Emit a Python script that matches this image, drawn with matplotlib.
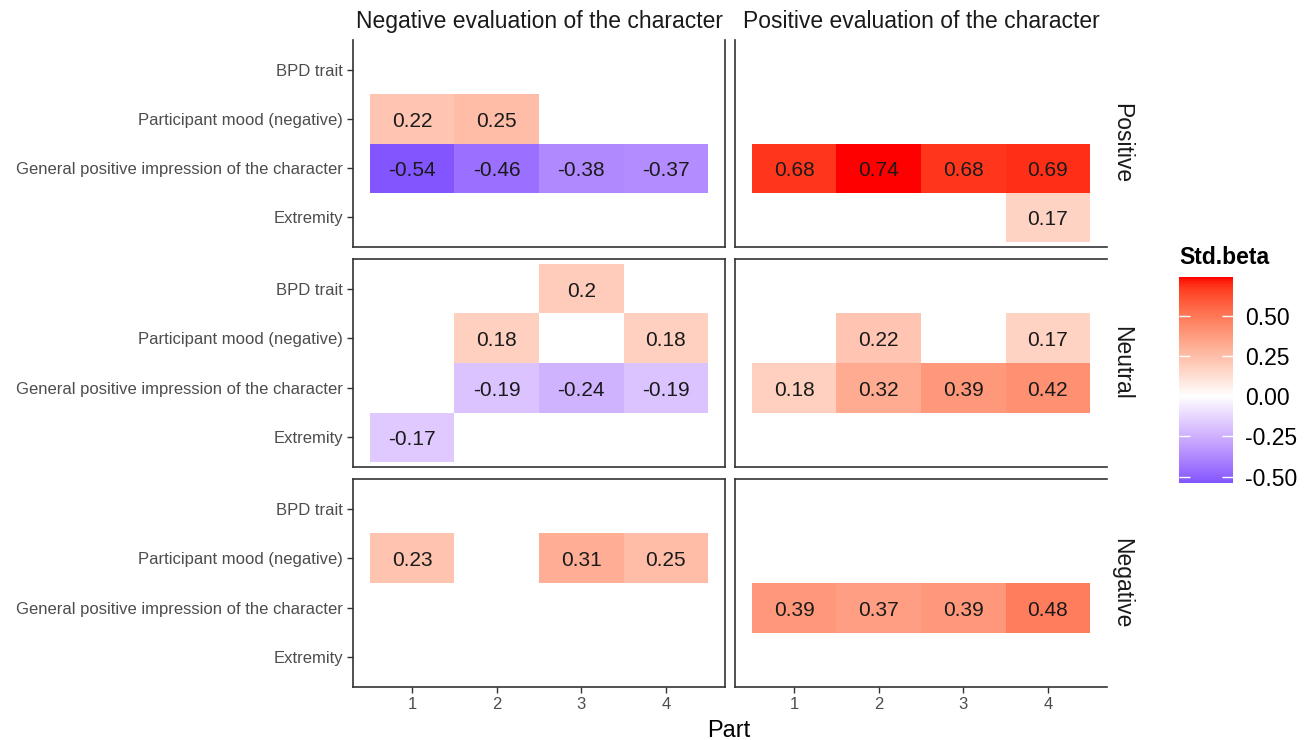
import numpy as np
import matplotlib
matplotlib.use("Agg")
import matplotlib.pyplot as plt
from matplotlib.colors import ListedColormap, Normalize
from matplotlib.transforms import offset_copy

plt.rcParams['font.family'] = ['Liberation Sans', 'DejaVu Sans']

# facets and categories
row_facets = ['Positive', 'Neutral', 'Negative']
col_facets = ['Negative evaluation of the character', 'Positive evaluation of the character']
predictors = ['Extremity', 'General positive impression of the character',
              'Participant mood (negative)', 'BPD trait']  # bottom -> top
parts = [1, 2, 3, 4]

# significant coefficients (one entry per tile)
cell_row = ['Positive'] * 6 + ['Positive'] * 5 + ['Neutral'] * 7 + ['Neutral'] * 6 + ['Negative'] * 3 + ['Negative'] * 4
cell_col = ([0] * 6 + [1] * 5 + [0] * 7 + [1] * 6 + [0] * 3 + [1] * 4)
cell_pred = ['Participant mood (negative)'] * 2 + ['General positive impression of the character'] * 4 \
    + ['General positive impression of the character'] * 4 + ['Extremity'] \
    + ['BPD trait'] + ['Participant mood (negative)'] * 2 + ['General positive impression of the character'] * 3 + ['Extremity'] \
    + ['Participant mood (negative)'] * 2 + ['General positive impression of the character'] * 4 \
    + ['Participant mood (negative)'] * 3 \
    + ['General positive impression of the character'] * 4
cell_part = [1, 2, 1, 2, 3, 4,
             1, 2, 3, 4, 4,
             3, 2, 4, 2, 3, 4, 1,
             2, 4, 1, 2, 3, 4,
             1, 3, 4,
             1, 2, 3, 4]
cell_beta = [0.22, 0.25, -0.54, -0.46, -0.38, -0.37,
             0.68, 0.74, 0.68, 0.69, 0.17,
             0.20, 0.18, 0.18, -0.19, -0.24, -0.19, -0.17,
             0.22, 0.17, 0.18, 0.32, 0.39, 0.42,
             0.23, 0.31, 0.25,
             0.39, 0.37, 0.39, 0.48]


# ggplot-like gradient2 (blue - white - red, interpolated in Lab)
def to_lab(rgb):
    c = np.asarray(rgb, float)
    lin = np.where(c <= 0.04045, c / 12.92, ((c + 0.055) / 1.055) ** 2.4)
    M = np.array([[0.4124, 0.3576, 0.1805], [0.2126, 0.7152, 0.0722], [0.0193, 0.1192, 0.9505]])
    xyz = M @ lin / np.array([0.95047, 1.0, 1.08883])
    d = 6 / 29
    f = np.where(xyz > d ** 3, np.cbrt(xyz), xyz / (3 * d * d) + 4 / 29)
    return np.array([116 * f[1] - 16, 500 * (f[0] - f[1]), 200 * (f[1] - f[2])])


def from_lab(lab):
    L, a, b = lab
    fy = (L + 16) / 116
    fx = fy + a / 500
    fz = fy - b / 200
    d = 6 / 29
    f = np.array([fx, fy, fz])
    xyz = np.where(f > d, f ** 3, 3 * d * d * (f - 4 / 29)) * np.array([0.95047, 1.0, 1.08883])
    Minv = np.linalg.inv(np.array([[0.4124, 0.3576, 0.1805], [0.2126, 0.7152, 0.0722], [0.0193, 0.1192, 0.9505]]))
    lin = Minv @ xyz
    lin = np.clip(lin, 0, 1)
    c = np.where(lin <= 0.0031308, 12.92 * lin, 1.055 * lin ** (1 / 2.4) - 0.055)
    return np.clip(c, 0, 1)


lab_lo, lab_mid, lab_hi = to_lab([0, 0, 1]), to_lab([1, 1, 1]), to_lab([1, 0, 0])
ramp = []
for t in np.linspace(0, 1, 256):
    if t < 0.5:
        lab = lab_lo + (lab_mid - lab_lo) * (t / 0.5)
    else:
        lab = lab_mid + (lab_hi - lab_mid) * ((t - 0.5) / 0.5)
    ramp.append(from_lab(lab))
cmap = ListedColormap(ramp)
bmin, bmax = min(cell_beta), max(cell_beta)
lim = max(abs(bmin), abs(bmax))
norm = Normalize(-lim, lim)

W, H = 1311, 740
fig = plt.figure(figsize=(W / 100, H / 100), dpi=100)

col_px = [(353, 725), (735, 1107)]
row_px = [(40, 247), (259, 467), (479, 687)]
tick_col = '#4D4D4D'

for ri, rname in enumerate(row_facets):
    for ci, cname in enumerate(col_facets):
        x0, x1 = col_px[ci]
        y0, y1 = row_px[ri]
        ax = fig.add_axes([x0 / W, 1 - y1 / H, (x1 - x0) / W, (y1 - y0) / H])
        ax.set_xlim(0.3, 4.7)
        ax.set_ylim(0.4, len(predictors) + 0.6)
        lbl_tr = offset_copy(ax.transData, fig=fig, y=-2.5, units='dots')
        for k in range(len(cell_beta)):
            if cell_row[k] == rname and cell_col[k] == ci:
                yv = predictors.index(cell_pred[k]) + 1
                ax.bar(cell_part[k], 1, width=1, bottom=yv - 0.5,
                       color=cmap(norm(cell_beta[k])), linewidth=0)
                ax.text(cell_part[k], yv, f"{cell_beta[k]:g}", ha='center', va='center',
                        fontsize=15, color='#1A1A1A', transform=lbl_tr)
        for s in ax.spines.values():
            s.set_color('#333333')
            s.set_linewidth(1.2)
        if ri == 0:
            ax.spines['top'].set_visible(False)
        if ci == 1:
            ax.spines['right'].set_visible(False)
        ax.set_xticks(parts)
        ax.set_yticks(range(1, len(predictors) + 1))
        ax.tick_params(colors='#333333', length=4, width=1, labelcolor=tick_col, labelsize=12, pad=3)
        if ci == 0:
            ax.set_yticklabels(predictors)
        else:
            ax.tick_params(axis='y', length=0)
            ax.set_yticklabels([])
        if ri == 2:
            ax.set_xticklabels([str(p) for p in parts])
        else:
            ax.tick_params(axis='x', length=0)
            ax.set_xticklabels([])
        if ri == 0:
            ax.set_title(cname, fontsize=16.5, color='#1A1A1A', pad=9)
        if ci == 1:
            ax.text(1.009, 0.5, rname, transform=ax.transAxes, rotation=-90,
                    ha='left', va='center', fontsize=16.5, color='#1A1A1A')

fig.text(729 / W, 1 - 731 / H, 'Part', ha='center', va='center', fontsize=17)

# colourbar legend
cb_x0, cb_x1, cb_y0, cb_y1 = 1179, 1233, 277, 483
cax = fig.add_axes([cb_x0 / W, 1 - cb_y1 / H, (cb_x1 - cb_x0) / W, (cb_y1 - cb_y0) / H])
grad = np.linspace(bmin, bmax, 300).reshape(-1, 1)
cax.imshow(grad, cmap=cmap, norm=norm, origin='lower', aspect='auto',
           extent=[0, 1, bmin, bmax])
cb_ticks = [-0.50, -0.25, 0.00, 0.25, 0.50]
cax.hlines(cb_ticks, 0, 0.2, color='white', linewidth=1)
cax.hlines(cb_ticks, 0.8, 1, color='white', linewidth=1)
cax.set_xlim(0, 1)
cax.set_ylim(bmin, bmax)
cax.set_xticks([])
cax.yaxis.tick_right()
cax.set_yticks(cb_ticks)
cax.set_yticklabels([f"{t:.2f}" for t in cb_ticks])
cax.tick_params(axis='y', length=0, labelsize=16.5, pad=9)
for s in cax.spines.values():
    s.set_visible(False)
fig.text(1179 / W, 1 - 258 / H, 'Std.beta', ha='left', va='center', fontsize=16.5, fontweight='bold')

fig.savefig('out.png', dpi=100)
